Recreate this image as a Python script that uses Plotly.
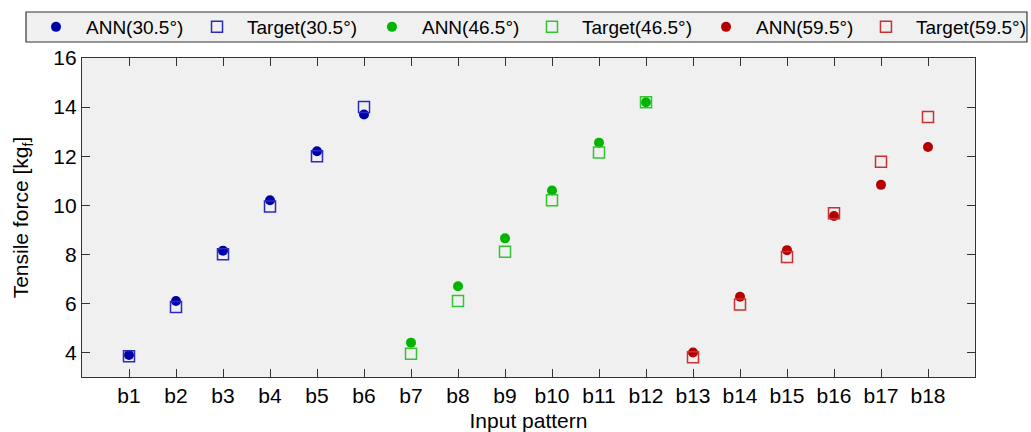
import plotly.graph_objects as go

patterns = [f"b{i}" for i in range(1, 19)]

ann_30 = [3.9, 6.1, 8.15, 10.2, 12.2, 13.7]
tgt_30 = [3.85, 5.85, 8.0, 9.95, 12.0, 14.0]
ann_46 = [4.4, 6.7, 8.65, 10.6, 12.55, 14.2]
tgt_46 = [3.95, 6.1, 8.1, 10.2, 12.15, 14.2]
ann_59 = [4.0, 6.27, 8.17, 9.56, 10.83, 12.37]
tgt_59 = [3.8, 5.95, 7.89, 9.67, 11.77, 13.6]

cats_30 = patterns[0:6]
cats_46 = patterns[6:12]
cats_59 = patterns[12:18]

FONT = "Liberation Sans, Arial, sans-serif"

fig = go.Figure()

series = [
    ("ANN(30.5°)", cats_30, ann_30, "circle", "#0000a8", None),
    ("Target(30.5°)", cats_30, tgt_30, "square-open", "#2a2ac0", 1.5),
    ("ANN(46.5°)", cats_46, ann_46, "circle", "#00b400", None),
    ("Target(46.5°)", cats_46, tgt_46, "square-open", "#33c433", 1.5),
    ("ANN(59.5°)", cats_59, ann_59, "circle", "#b40000", None),
    ("Target(59.5°)", cats_59, tgt_59, "square-open", "#c83232", 1.5),
]

# each legend entry gets its own legend box so it can sit exactly where the reference has it
legend_ids = ["legend", "legend2", "legend3", "legend4", "legend5", "legend6"]
legend_x = [-0.0627, 0.1176, 0.3135, 0.4927, 0.6876, 0.8667]

for (name, xs, ys, sym, col, lw), leg in zip(series, legend_ids):
    marker = dict(symbol=sym, color=col, size=10 if sym == "circle" else 11)
    if lw:
        marker["line"] = dict(color=col, width=lw)
    fig.add_trace(go.Scatter(x=xs, y=ys, mode="markers", name=name,
                             marker=marker, legend=leg, showlegend=True))

axis_common = dict(
    showline=True, linecolor="#333333", linewidth=1.2, mirror="ticks",
    ticks="inside", ticklen=8, tickcolor="#333333", tickwidth=1.2,
    showgrid=False, zeroline=False,
    tickfont=dict(family=FONT, size=21, color="black"),
)

fig.update_xaxes(
    type="category", categoryorder="array", categoryarray=patterns,
    range=[-1, 18],
    title=dict(text="Input pattern", font=dict(family=FONT, size=21, color="black"), standoff=8),
    **axis_common,
)
fig.update_yaxes(
    range=[3, 16], tickvals=[4, 6, 8, 10, 12, 14, 16],
    title=dict(text="Tensile force [kg<sub>f</sub>]", font=dict(family=FONT, size=21, color="black"), standoff=18),
    **axis_common,
)

leg_common = dict(
    orientation="h", yanchor="middle", xanchor="left", y=1.0972,
    bgcolor="rgba(0,0,0,0)", borderwidth=0,
    font=dict(family=FONT, size=19, color="black"),
    itemwidth=50, visible=True,
)

legends = {lid: dict(x=lx, **leg_common) for lid, lx in zip(legend_ids, legend_x)}

fig.update_layout(
    width=1031, height=432,
    margin=dict(l=82, r=56, t=58, b=55, autoexpand=False),
    paper_bgcolor="white",
    plot_bgcolor="#f0f0f0",
    font=dict(family=FONT, color="black"),
    showlegend=True,
    shapes=[dict(
        type="rect", xref="paper", yref="paper",
        x0=-0.0627, x1=1.0582, y0=1.0502, y1=1.1442,
        fillcolor="#f0f0f0", line=dict(color="#333333", width=1.2),
        layer="below",
    )],
    **legends,
)

fig.write_html("out.html")
